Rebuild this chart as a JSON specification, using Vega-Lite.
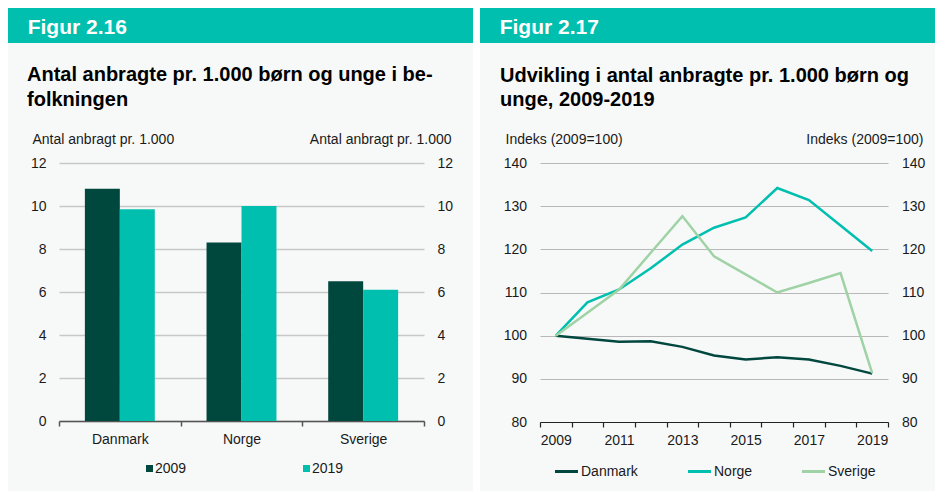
{
  "$schema": "https://vega.github.io/schema/vega-lite/v6.json",
  "background": "#f7f9f9",
  "padding": 0,
  "spacing": 0,
  "resolve": {"scale": {"color": "independent"}, "legend": {"color": "independent"}},
  "config": {
    "font": "Liberation Sans",
    "view": {"stroke": null},
    "axis": {"labelFont": "Liberation Sans", "labelFontSize": 14, "labelColor": "#1a1a1a", "titleFont": "Liberation Sans", "titleFontSize": 14, "titleFontWeight": "normal", "titleColor": "#1a1a1a"},
    "legend": {"labelFont": "Liberation Sans", "labelFontSize": 14, "labelColor": "#1a1a1a"},
    "title": {"font": "Liberation Sans", "color": "#000000"}
  },
  "vconcat": [
    {"width": 935, "height": 8, "view": {"fill": "#ffffff", "stroke": null}, "data": {"values": []}, "mark": "point"},
    {
      "spacing": 0,
      "resolve": {"scale": {"color": "independent"}, "legend": {"color": "independent"}},
      "hconcat": [
        {"width": 8, "height": 483, "view": {"fill": "#ffffff", "stroke": null}, "data": {"values": []}, "mark": "point"},
        {
          "spacing": 22,
          "vconcat": [
            {
              "width": 465, "height": 35,
              "view": {"fill": "#00bfae", "stroke": null},
              "data": {"values": [{"t": "Figur 2.16"}]},
              "mark": {"type": "text", "align": "left", "baseline": "alphabetic", "x": 19.7, "y": 26.3, "font": "Liberation Sans", "fontSize": 21, "fontWeight": "bold", "color": "#ffffff"},
              "encoding": {"text": {"field": "t"}}
            },
            {
              "spacing": 0,
              "hconcat": [
                {"width": 19, "height": 5, "data": {"values": []}, "mark": "point"},
                {
                  "width": 365, "height": 258,
                  "title": {"text": ["Antal anbragte pr. 1.000 børn og unge i be-", "folkningen"], "anchor": "start", "frame": "group", "dx": -32, "offset": 6, "fontSize": 20, "fontWeight": "bold", "lineHeight": 24.6, "baseline": "alphabetic"},
                  "data": {"values": [
                    {"land": "Danmark", "aar": "2009", "vaerdi": 10.8},
                    {"land": "Danmark", "aar": "2019", "vaerdi": 9.85},
                    {"land": "Norge", "aar": "2009", "vaerdi": 8.3},
                    {"land": "Norge", "aar": "2019", "vaerdi": 10.0},
                    {"land": "Sverige", "aar": "2009", "vaerdi": 6.5},
                    {"land": "Sverige", "aar": "2019", "vaerdi": 6.1}
                  ]},
                  "resolve": {"axis": {"y": "independent"}},
                  "layer": [
                    {
                      "mark": {"type": "bar"},
                      "encoding": {
                        "x": {"field": "land", "type": "nominal", "sort": ["Danmark", "Norge", "Sverige"], "scale": {"type": "band", "paddingInner": 0, "paddingOuter": 0},
                              "axis": {"title": null, "labelAngle": 0, "tickBand": "extent", "domainColor": "#555555", "domainWidth": 1.5, "tickColor": "#555555", "tickWidth": 1.5, "tickSize": 5, "labelPadding": 6.5, "grid": false}},
                        "xOffset": {"field": "aar", "type": "nominal", "scale": {"paddingInner": 0, "paddingOuter": 0.74}},
                        "y": {"field": "vaerdi", "type": "quantitative", "scale": {"domain": [0, 12], "nice": false},
                              "axis": {"orient": "left", "values": [0, 2, 4, 6, 8, 10, 12], "title": "Antal anbragt pr. 1.000", "titleAngle": 0, "titleAlign": "left", "titleBaseline": "alphabetic", "titleX": -27, "titleY": -20, "ticks": false, "domain": false, "labelPadding": 13, "grid": true, "gridColor": "#c8c8c8", "gridWidth": 1.5}},
                        "color": {"field": "aar", "type": "nominal", "scale": {"domain": ["2009", "2019"], "range": ["#00473e", "#00bfae"]},
                                  "legend": {"orient": "none", "legendX": 134.5, "legendY": 453.5, "direction": "horizontal", "title": null, "symbolType": "square", "symbolSize": 49, "symbolStrokeWidth": 0, "labelOffset": -1.5, "columnPadding": 113}}
                      }
                    },
                    {
                      "mark": {"type": "point", "opacity": 0},
                      "encoding": {
                        "x": {"field": "land", "type": "nominal", "sort": ["Danmark", "Norge", "Sverige"], "scale": {"type": "band", "paddingInner": 0, "paddingOuter": 0},
                              "axis": {"title": null, "labelAngle": 0, "tickBand": "extent", "domainColor": "#555555", "domainWidth": 1.5, "tickColor": "#555555", "tickWidth": 1.5, "tickSize": 5, "labelPadding": 6.5, "grid": false}},
                        "y": {"field": "vaerdi", "type": "quantitative", "scale": {"domain": [0, 12], "nice": false},
                              "axis": {"orient": "right", "values": [0, 2, 4, 6, 8, 10, 12], "title": "Antal anbragt pr. 1.000", "titleAngle": 0, "titleAlign": "right", "titleBaseline": "alphabetic", "titleX": 27, "titleY": -20, "ticks": false, "domain": false, "labelPadding": 13, "grid": false}}
                      }
                    }
                  ]
                }
              ]
            }
          ]
        },
        {"width": 7, "height": 483, "view": {"fill": "#ffffff", "stroke": null}, "data": {"values": []}, "mark": "point"},
        {
          "spacing": 22,
          "vconcat": [
            {
              "width": 455, "height": 35,
              "view": {"fill": "#00bfae", "stroke": null},
              "data": {"values": [{"t": "Figur 2.17"}]},
              "mark": {"type": "text", "align": "left", "baseline": "alphabetic", "x": 19.7, "y": 26.3, "font": "Liberation Sans", "fontSize": 21, "fontWeight": "bold", "color": "#ffffff"},
              "encoding": {"text": {"field": "t"}}
            },
            {
              "spacing": 0,
              "hconcat": [
                {"width": 20, "height": 5, "data": {"values": []}, "mark": "point"},
                {
                  "width": 348, "height": 259,
                  "title": {"text": ["Udvikling i antal anbragte pr. 1.000 børn og", "unge, 2009-2019"], "anchor": "start", "frame": "group", "dx": -40, "offset": 6, "fontSize": 20, "fontWeight": "bold", "lineHeight": 24.6, "baseline": "alphabetic"},
                  "data": {"values": [
                    {"aar": 2009, "land": "Danmark", "indeks": 100},
                    {"aar": 2010, "land": "Danmark", "indeks": 99.3},
                    {"aar": 2011, "land": "Danmark", "indeks": 98.6},
                    {"aar": 2012, "land": "Danmark", "indeks": 98.7},
                    {"aar": 2013, "land": "Danmark", "indeks": 97.4},
                    {"aar": 2014, "land": "Danmark", "indeks": 95.4},
                    {"aar": 2015, "land": "Danmark", "indeks": 94.5},
                    {"aar": 2016, "land": "Danmark", "indeks": 95.0},
                    {"aar": 2017, "land": "Danmark", "indeks": 94.5},
                    {"aar": 2018, "land": "Danmark", "indeks": 93.0},
                    {"aar": 2019, "land": "Danmark", "indeks": 91.2},
                    {"aar": 2009, "land": "Norge", "indeks": 100},
                    {"aar": 2010, "land": "Norge", "indeks": 107.7},
                    {"aar": 2011, "land": "Norge", "indeks": 110.7},
                    {"aar": 2012, "land": "Norge", "indeks": 115.6},
                    {"aar": 2013, "land": "Norge", "indeks": 121.1},
                    {"aar": 2014, "land": "Norge", "indeks": 125.0},
                    {"aar": 2015, "land": "Norge", "indeks": 127.4},
                    {"aar": 2016, "land": "Norge", "indeks": 134.2},
                    {"aar": 2017, "land": "Norge", "indeks": 131.4},
                    {"aar": 2018, "land": "Norge", "indeks": 125.5},
                    {"aar": 2019, "land": "Norge", "indeks": 119.6},
                    {"aar": 2009, "land": "Sverige", "indeks": 100},
                    {"aar": 2010, "land": "Sverige", "indeks": 105.3},
                    {"aar": 2011, "land": "Sverige", "indeks": 110.7},
                    {"aar": 2012, "land": "Sverige", "indeks": 119.2},
                    {"aar": 2013, "land": "Sverige", "indeks": 127.7},
                    {"aar": 2014, "land": "Sverige", "indeks": 118.4},
                    {"aar": 2015, "land": "Sverige", "indeks": 114.2},
                    {"aar": 2016, "land": "Sverige", "indeks": 110.0},
                    {"aar": 2017, "land": "Sverige", "indeks": 112.2},
                    {"aar": 2018, "land": "Sverige", "indeks": 114.5},
                    {"aar": 2019, "land": "Sverige", "indeks": 91.3}
                  ]},
                  "resolve": {"axis": {"y": "independent"}},
                  "layer": [
                    {
                      "mark": {"type": "line", "strokeWidth": 2.5},
                      "encoding": {
                        "x": {"field": "aar", "type": "ordinal", "bandPosition": 0.5, "scale": {"type": "band", "paddingInner": 0, "paddingOuter": 0},
                              "axis": {"title": null, "labelAngle": 0, "tickBand": "extent", "labelExpr": "datum.value % 2 == 1 ? datum.label : ''", "labelOverlap": false, "domainColor": "#222222", "domainWidth": 1.2, "tickColor": "#222222", "tickWidth": 1.2, "tickSize": 5, "labelPadding": 6.5, "grid": false}},
                        "y": {"field": "indeks", "type": "quantitative", "scale": {"domain": [80, 140], "nice": false},
                              "axis": {"orient": "left", "values": [80, 90, 100, 110, 120, 130, 140], "title": "Indeks (2009=100)", "titleAngle": 0, "titleAlign": "left", "titleBaseline": "alphabetic", "titleX": -35, "titleY": -19.5, "ticks": false, "domain": false, "labelPadding": 13.5, "grid": true, "gridColor": "#b8b8b8", "gridWidth": 1.2}},
                        "color": {"field": "land", "type": "nominal", "scale": {"domain": ["Danmark", "Norge", "Sverige"], "range": ["#00473e", "#00bfae", "#9fd2a4"]},
                                  "legend": {"orient": "none", "legendX": 73.5, "legendY": 450.5, "direction": "horizontal", "title": null, "symbolType": "stroke", "symbolSize": 529, "symbolStrokeWidth": 3, "labelOffset": 1.5, "columnPadding": 43}}
                      }
                    },
                    {
                      "mark": {"type": "point", "opacity": 0},
                      "encoding": {
                        "x": {"field": "aar", "type": "ordinal", "bandPosition": 0.5, "scale": {"type": "band", "paddingInner": 0, "paddingOuter": 0},
                              "axis": {"title": null, "labelAngle": 0, "tickBand": "extent", "labelExpr": "datum.value % 2 == 1 ? datum.label : ''", "labelOverlap": false, "domainColor": "#222222", "domainWidth": 1.2, "tickColor": "#222222", "tickWidth": 1.2, "tickSize": 5, "labelPadding": 6.5, "grid": false}},
                        "y": {"field": "indeks", "type": "quantitative", "scale": {"domain": [80, 140], "nice": false},
                              "axis": {"orient": "right", "values": [80, 90, 100, 110, 120, 130, 140], "title": "Indeks (2009=100)", "titleAngle": 0, "titleAlign": "right", "titleBaseline": "alphabetic", "titleX": 35, "titleY": -19.5, "ticks": false, "domain": false, "labelPadding": 13.5, "grid": false}}
                      }
                    }
                  ]
                }
              ]
            }
          ]
        }
      ]
    }
  ]
}
